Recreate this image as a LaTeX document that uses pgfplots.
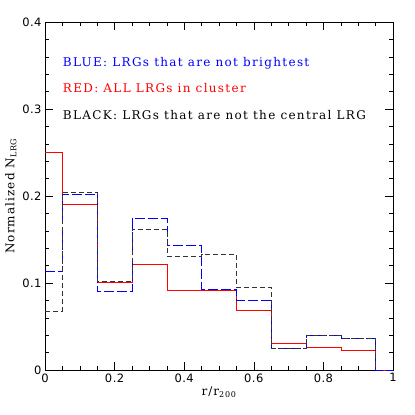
\documentclass[border=0pt]{standalone}
\usepackage{pgfplots}
\pgfplotsset{compat=1.18}
\usepackage{fontspec}
\setmainfont{DejaVu Serif}
\newfontfamily\wideserif{DejaVu Serif}[LetterSpace=9]
\newfontfamily\legserif{DejaVu Serif}[LetterSpace=11]
\newfontfamily\ticksf{DejaVu Sans}[LetterSpace=4]
\begin{document}
\begin{tikzpicture}
\begin{axis}[
  scale only axis, width=348pt, height=348pt,
  xmin=0, xmax=1, ymin=0, ymax=0.4,
  xtick={0,0.2,0.4,0.6,0.8,1}, ytick={0,0.1,0.2,0.3,0.4},
  minor x tick num=3, minor y tick num=4,
  tick align=inside, tickpos=both,
  major tick length=8pt, minor tick length=4pt,
  tick style={black, line width=0.5pt},
  axis line style={line width=0.6pt},
  xticklabel style={font=\ticksf\fontsize{11.5}{12}\selectfont},
  yticklabel style={font=\ticksf\fontsize{11.5}{12}\selectfont},
  xticklabel={\pgfmathprintnumber[assume math mode=true]{\tick}},
  yticklabel={\pgfmathprintnumber[assume math mode=true,fixed,precision=1]{\tick}},
  xlabel={r/r\textsubscript{200}}, ylabel={Normalized N\textsubscript{LRG}},
  label style={font=\wideserif\fontsize{12}{13}\selectfont},
  xlabel style={yshift=2pt},
  ylabel style={yshift=-1pt},
  clip=false,
]
\addplot[const plot mark left, red, line width=0.6pt] coordinates {
(0,0.250) (0.05,0.190) (0.15,0.101) (0.25,0.122) (0.35,0.092) (0.45,0.092)
(0.55,0.069) (0.65,0.031) (0.75,0.026) (0.85,0.023) (0.95,0) (1,0)};
\addplot[const plot mark left, blue, line width=0.6pt, dash pattern=on 10pt off 3pt] coordinates {
(0,0.113) (0.05,0.202) (0.15,0.090) (0.25,0.174) (0.35,0.143) (0.45,0.093)
(0.55,0.080) (0.65,0.0245) (0.75,0.040) (0.85,0.037) (0.95,0) (1,0)};
\addplot[const plot mark left, black!80, line width=0.6pt, dash pattern=on 5pt off 3pt] coordinates {
(0,0.068) (0.05,0.204) (0.15,0.102) (0.25,0.162) (0.35,0.131) (0.45,0.133)
(0.55,0.095) (0.65,0.0245) (0.75,0.040) (0.85,0.037) (0.95,0)};
\node[anchor=west, blue, font=\legserif\fontsize{12}{13}\selectfont, inner sep=0pt] at (axis cs:0.051,0.353) {BLUE: LRGs that are not brightest};
\node[anchor=west, red, font=\legserif\fontsize{12}{13}\selectfont, inner sep=0pt] at (axis cs:0.051,0.324) {RED: ALL LRGs in cluster};
\node[anchor=west, black, font=\legserif\fontsize{12}{13}\selectfont, inner sep=0pt] at (axis cs:0.051,0.293) {BLACK: LRGs that are not the central LRG};
\end{axis}
\path (current axis.south west) ++(-45pt,-45pt) coordinate (bl);
\path (current axis.north east) ++(22pt,22pt) coordinate (tr);
\path (bl) rectangle (tr);
\end{tikzpicture}
\end{document}
